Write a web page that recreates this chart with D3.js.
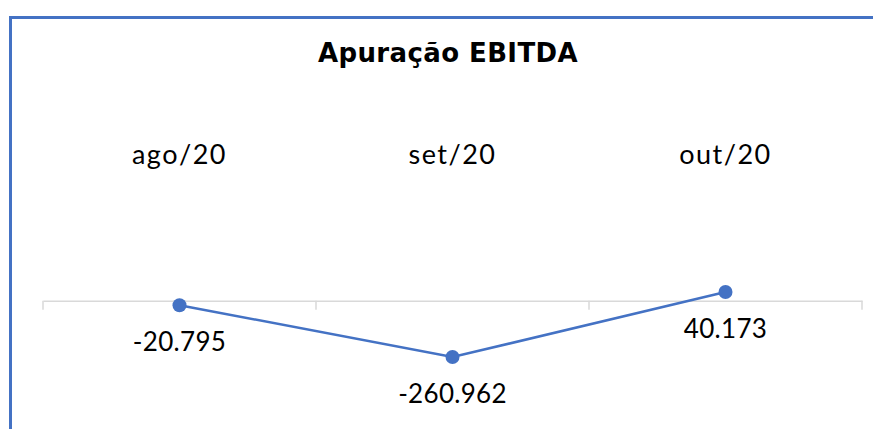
<!DOCTYPE html>
<html>
<head>
<meta charset="utf-8">
<script src="https://cdn.jsdelivr.net/npm/d3@7"></script>
<style>
  body { margin: 0; background: #fff; }
  svg { display: block; }
</style>
</head>
<body>
<script>
// chart data
const months = ['ago/20', 'set/20', 'out/20'];
const ebitda = [-20795, -260962, 40173];
const labels = ['-20.795', '-260.962', '40.173'];

const width = 873;
const height = 429;
const blue = '#4472C4';

const svg = d3.select('body')
    .append('svg')
        .attr('width', width)
        .attr('height', height);

// chart border (only top/left visible in the crop)
svg.append('rect')
    .attr('x', 10.5)
    .attr('y', 17.5)
    .attr('width', width + 20)
    .attr('height', height + 20)
    .attr('fill', 'none')
    .attr('stroke', blue)
    .attr('stroke-width', 3);

// title
svg.append('text')
    .attr('x', 448)
    .attr('y', 62)
    .attr('text-anchor', 'middle')
    .style('font-family', '"DejaVu Sans", sans-serif')
    .style('font-weight', 'bold')
    .style('font-size', '26px')
    .style('letter-spacing', '0.4px')
    .style('fill', '#000')
    .text('Apuração EBITDA');

// scales
const xScale = d3.scaleBand()
    .domain(months)
    .range([43, 862]);

const yScale = d3.scaleLinear()
    .domain([-300000, 300000])
    .range([365.5, 235.9]);

// category axis at zero
const axis = svg.append('g')
    .attr('transform', `translate(0, ${yScale(0)})`)
    .call(d3.axisBottom(xScale).tickSizeInner(0).tickSizeOuter(0).tickFormat(''));
axis.select('.domain').attr('stroke', '#d9d9d9').attr('stroke-width', 1.5);

// band boundary ticks
const edges = months.map(m => xScale(m)).concat([xScale(months[months.length - 1]) + xScale.bandwidth()]);
axis.selectAll('line.edge')
    .data(edges)
    .enter()
        .append('line')
            .attr('class', 'edge')
            .attr('x1', d => d)
            .attr('x2', d => d)
            .attr('y1', 0)
            .attr('y2', 9)
            .attr('stroke', '#d9d9d9')
            .attr('stroke-width', 1.5);

// category labels up top
svg.selectAll('text.cat')
    .data(months)
    .enter()
        .append('text')
            .attr('class', 'cat')
            .attr('x', d => xScale(d) + xScale.bandwidth() / 2)
            .attr('y', 164)
            .attr('text-anchor', 'middle')
            .style('font-family', 'Lato, sans-serif')
            .style('font-size', '27px')
            .style('letter-spacing', '1.5px')
            .style('fill', '#000')
            .text(d => d);

const cx = (d, i) => xScale(months[i]) + xScale.bandwidth() / 2;

// line
const line = d3.line()
    .x((d, i) => cx(d, i))
    .y(d => yScale(d));

svg.append('path')
    .datum(ebitda)
    .attr('d', line)
    .attr('fill', 'none')
    .attr('stroke', blue)
    .attr('stroke-width', 2.5);

// markers
svg.selectAll('circle')
    .data(ebitda)
    .enter()
        .append('circle')
            .attr('cx', cx)
            .attr('cy', d => yScale(d))
            .attr('r', 7)
            .attr('fill', blue);

// data labels below points
svg.selectAll('text.val')
    .data(ebitda)
    .enter()
        .append('text')
            .attr('class', 'val')
            .attr('x', cx)
            .attr('y', d => yScale(d) + 46)
            .attr('text-anchor', 'middle')
            .style('font-family', 'Lato, sans-serif')
            .style('font-size', '26px')
            .style('letter-spacing', '0.3px')
            .style('fill', '#000')
            .text((d, i) => labels[i]);
</script>
</body>
</html>
